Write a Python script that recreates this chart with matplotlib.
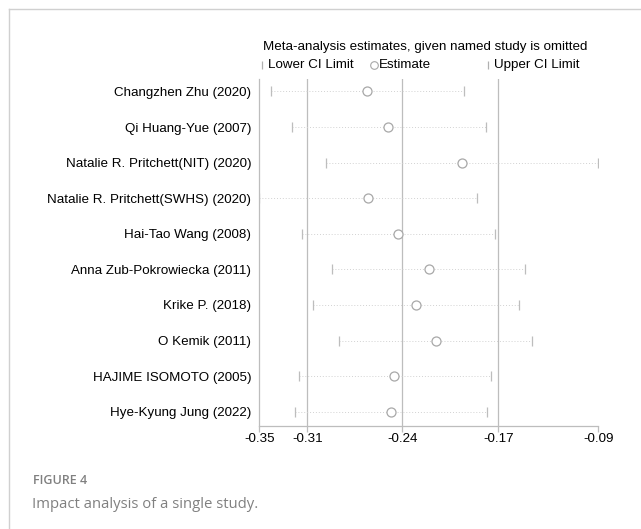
import matplotlib
matplotlib.use('Agg')
import matplotlib.pyplot as plt
from matplotlib.lines import Line2D

studies = ['Changzhen Zhu (2020)', 'Qi Huang-Yue (2007)', 'Natalie R. Pritchett(NIT) (2020)',
           'Natalie R. Pritchett(SWHS) (2020)', 'Hai-Tao Wang (2008)', 'Anna Zub-Pokrowiecka (2011)',
           'Krike P. (2018)', 'O Kemik (2011)', 'HAJIME ISOMOTO (2005)', 'Hye-Kyung Jung (2022)']
lower = [-0.3409, -0.3251, -0.2994, -0.3495, -0.3176, -0.2946, -0.3093, -0.2893, -0.3199, -0.3224]
estimate = [-0.2683, -0.2525, -0.1973, -0.2680, -0.2450, -0.2219, -0.2317, -0.2169, -0.2480, -0.2503]
upper = [-0.1954, -0.1793, -0.0946, -0.1860, -0.1723, -0.1497, -0.1540, -0.1442, -0.1751, -0.1781]

# overall estimate and CI (vertical lines)
overall = [-0.3134, -0.2420, -0.1698]
tick_vals = [min(lower)] + overall + [max(upper)]
tick_labels = ['-0.35', '-0.31', '-0.24', '-0.17', '-0.09']

plt.rcParams['font.family'] = ['Liberation Sans', 'DejaVu Sans']
grey = '#bdbdbd'
fs = 9.6

fig = plt.figure(figsize=(6.41, 5.29), dpi=100)
ax = fig.add_axes([0.4045, 0.1947, 0.9334 - 0.4045, 0.8507 - 0.1947])

y = list(range(len(studies)))
for v in overall:
    ax.axvline(v, color=grey, lw=0.9, zorder=1)
ax.hlines(y, lower, upper, colors='#d2d2d2', linestyles=(0, (1, 2)), lw=0.7, zorder=2)
ax.plot(lower, y, ls='none', marker='|', ms=7.5, mew=0.9, color=grey, zorder=3)
ax.plot(upper, y, ls='none', marker='|', ms=7.5, mew=0.9, color=grey, zorder=3)
ax.plot(estimate, y, ls='none', marker='o', ms=6.5, mfc='white', mec='#a8a8a8', mew=0.9, zorder=4)

ax.set_xlim(tick_vals[0], tick_vals[-1])
ax.set_ylim(len(studies) - 0.6, -0.35)
ax.set_xticks(tick_vals)
ax.set_xticklabels(tick_labels, fontsize=fs)
ax.set_yticks(y)
ax.set_yticklabels(studies, fontsize=fs)
ax.tick_params(axis='y', length=0, pad=5.8)
ax.tick_params(axis='x', length=4.5, color=grey, width=0.9, pad=0.5)
for s in ['top', 'right']:
    ax.spines[s].set_visible(False)
for s in ['left', 'bottom']:
    ax.spines[s].set_color(grey)
    ax.spines[s].set_linewidth(0.9)

# legend
ax.text(0.011, 1.093, 'Meta-analysis estimates, given named study is omitted',
        transform=ax.transAxes, fontsize=fs, va='center', ha='left')
ly = 1.040
ax.add_line(Line2D([0.007], [ly], transform=ax.transAxes, marker='|', ms=6, mew=0.9,
                   color='#b0b0b0', ls='none', clip_on=False))
ax.text(0.025, ly, 'Lower CI Limit', transform=ax.transAxes, fontsize=fs, va='center')
ax.add_line(Line2D([0.337], [ly], transform=ax.transAxes, marker='o', ms=5.5, mfc='white',
                   mec='#a8a8a8', mew=0.8, ls='none', clip_on=False))
ax.text(0.352, ly, 'Estimate', transform=ax.transAxes, fontsize=fs, va='center')
ax.add_line(Line2D([0.674], [ly], transform=ax.transAxes, marker='|', ms=6, mew=0.9,
                   color='#b0b0b0', ls='none', clip_on=False))
ax.text(0.691, ly, 'Upper CI Limit', transform=ax.transAxes, fontsize=fs, va='center')

# frame and caption
fig.add_artist(Line2D([9 / 641, 9 / 641], [0, 1 - 9 / 529], color='#d0d0d0', lw=1))
fig.add_artist(Line2D([9 / 641, 1], [1 - 9 / 529, 1 - 9 / 529], color='#d0d0d0', lw=1))
fig.text(33 / 641, 1 - 481 / 529, 'FIGURE 4', fontsize=9, color='#808080',
         family=['Open Sans', 'DejaVu Sans'], va='center', fontweight='semibold')
fig.text(32 / 641, 1 - 505 / 529, 'Impact analysis of a single study.', fontsize=10.7,
         color='#808080', family=['Open Sans', 'DejaVu Sans'], va='center')

fig.savefig('out.png', dpi=100)
